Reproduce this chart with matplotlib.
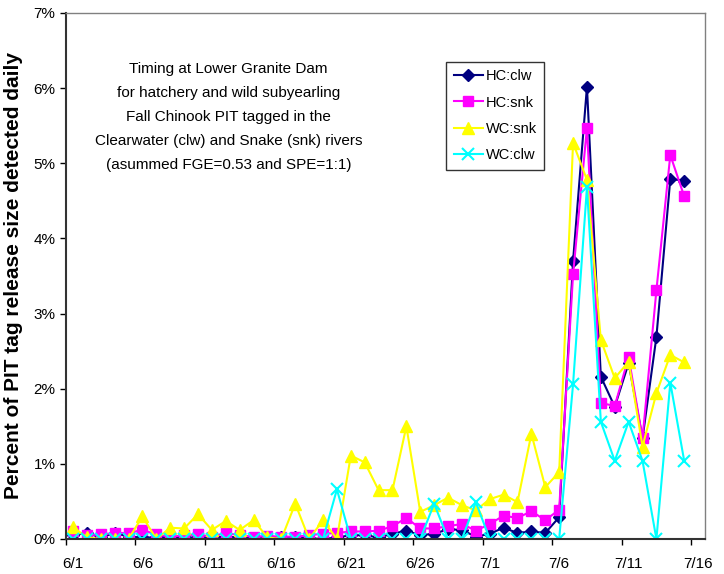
import matplotlib
matplotlib.use("Agg")
import matplotlib.pyplot as plt
import numpy as np

plt.rcParams['font.family'] = ['Liberation Sans', 'DejaVu Sans']

# days from 6/1 to 7/15 (index 0..44), axis runs to 7/16
tick_labels = ["6/1", "6/6", "6/11", "6/16", "6/21", "6/26", "7/1", "7/6", "7/11", "7/16"]

hc_clw = [0.05, 0.08, 0.02, 0.08, 0.03, 0.02, 0.02, 0.03, 0.02, 0.02,
          0.02, 0.03, 0.02, 0.01, 0.01, 0.02, 0.02, 0.01, 0.00, 0.02,
          0.05, 0.05, 0.02, 0.07, 0.11, 0.05, 0.07, 0.13, 0.12, 0.03,
          0.07, 0.15, 0.08, 0.10, 0.08, 0.29, 3.70, 6.02, 2.16, 1.76,
          2.34, 1.34, 2.69, 4.79, 4.77]
hc_snk = [0.11, 0.05, 0.06, 0.08, 0.08, 0.12, 0.06, 0.03, 0.05, 0.06,
          0.03, 0.08, 0.05, 0.03, 0.04, 0.03, 0.03, 0.05, 0.07, 0.08,
          0.10, 0.10, 0.11, 0.17, 0.28, 0.14, 0.14, 0.17, 0.20, 0.11,
          0.20, 0.31, 0.28, 0.37, 0.25, 0.39, 3.52, 5.47, 1.81, 1.77,
          2.42, 1.34, 3.31, 5.11, 4.56]
wc_snk = [0.16, 0.02, 0.00, 0.00, 0.00, 0.30, 0.00, 0.15, 0.14, 0.33,
          0.12, 0.24, 0.12, 0.25, 0.02, 0.00, 0.47, 0.00, 0.25, 0.00,
          1.11, 1.02, 0.65, 0.65, 1.50, 0.36, 0.45, 0.55, 0.45, 0.38,
          0.53, 0.59, 0.49, 1.40, 0.69, 0.89, 5.27, 4.78, 2.65, 2.14,
          2.36, 1.23, 1.94, 2.45, 2.35]
wc_clw = [0.00, 0.00, 0.00, 0.00, 0.00, 0.00, 0.00, 0.00, 0.00, 0.00,
          0.00, 0.00, 0.00, 0.00, 0.00, 0.00, 0.00, 0.00, 0.00, 0.66,
          0.00, 0.00, 0.00, 0.00, 0.00, 0.00, 0.47, 0.00, 0.00, 0.49,
          0.00, 0.00, 0.00, 0.00, 0.00, 0.00, 2.06, 4.68, 1.56, 1.04,
          1.56, 1.04, 0.00, 2.08, 1.04]

days = np.arange(len(hc_clw))

fig = plt.figure(figsize=(7.24, 5.74), dpi=100)
ax = fig.add_axes([0.0912, 0.061, 0.8826, 0.9164])

ax.plot(days, hc_clw, color='#000080', marker='D', markersize=6, lw=1.5, label='HC:clw')
ax.plot(days, hc_snk, color='#FF00FF', marker='s', markersize=7, lw=1.5, label='HC:snk')
ax.plot(days, wc_snk, color='#FFFF00', marker='^', markersize=8, lw=1.5, label='WC:snk')
ax.plot(days, wc_clw, color='#00FFFF', marker='x', markersize=8, mew=1.5, lw=1.5, label='WC:clw')

ax.set_xlim(-0.5, 45.5)
ax.set_ylim(0, 7)
ax.set_yticks(range(0, 8))
ax.set_yticklabels([f"{v}%" for v in range(0, 8)], fontsize=11)

# labels at category centers, tick marks between categories
ax.set_xticks(np.arange(0, 46, 5))
ax.set_xticklabels(tick_labels, fontsize=11)
ax.tick_params(axis='x', which='major', length=0, pad=13)
ax.set_xticks(np.arange(-0.5, 46, 5), minor=True)
ax.tick_params(axis='x', which='minor', length=4, width=1, direction='out')
ax.tick_params(axis='y', length=4, width=1, direction='out')

for s in ['left', 'bottom']:
    ax.spines[s].set_color('#333333')
    ax.spines[s].set_linewidth(1.5)
for s in ['top', 'right']:
    ax.spines[s].set_color('#808080')
    ax.spines[s].set_linewidth(1)

ax.set_ylabel("Percent of PIT tag release size detected daily", fontsize=15,
              fontweight='bold', labelpad=8)

title = ("Timing at Lower Granite Dam\n"
         "for hatchery and wild subyearling\n"
         "Fall Chinook PIT tagged in the\n"
         "Clearwater (clw) and Snake (snk) rivers\n"
         "(asummed FGE=0.53 and SPE=1:1)")
ax.text(0.254, 0.802, title, transform=ax.transAxes, ha='center', va='center',
        fontsize=11, linespacing=1.9)

leg = ax.legend(loc='upper left', bbox_to_anchor=(0.595, 0.907), fontsize=10.5,
                frameon=True, fancybox=False, edgecolor='black', borderpad=0.5,
                borderaxespad=0, handlelength=2.0, labelspacing=0.85,
                handletextpad=0.2)
leg.get_frame().set_linewidth(1)

fig.savefig("out.png", dpi=100)
